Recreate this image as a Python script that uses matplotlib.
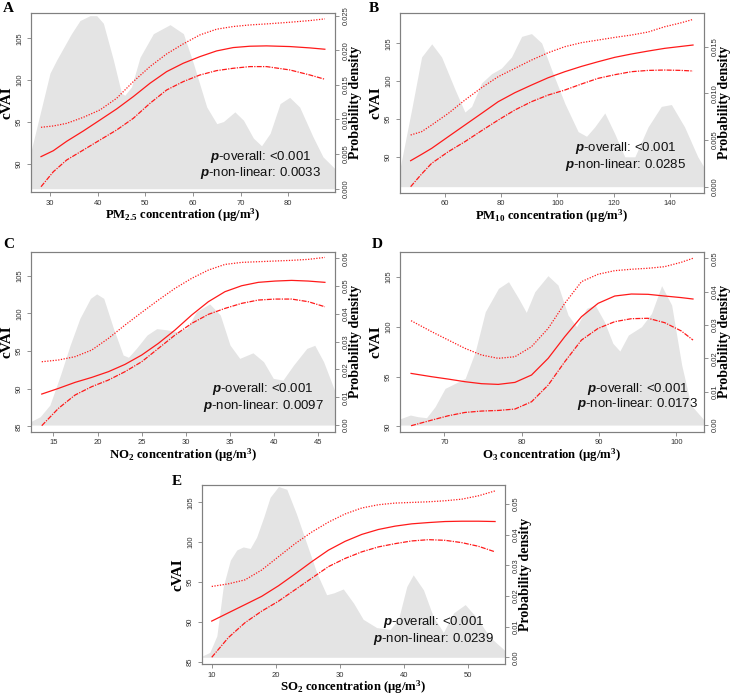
import numpy as np
import matplotlib
matplotlib.use("Agg")
import matplotlib.pyplot as plt

plt.rcParams["mathtext.fontset"] = "custom"
plt.rcParams["mathtext.rm"] = "Liberation Serif:bold"
plt.rcParams["mathtext.it"] = "Liberation Serif:bold"
plt.rcParams["mathtext.bf"] = "Liberation Serif:bold"
plt.rcParams["mathtext.bfit"] = "Liberation Sans:italic:bold"

# ---- A: PM2.5 ----
pm25_dx = [25.9, 30, 31.4, 34.5, 36.3, 38.4, 39.8, 41.2, 43.3, 45, 45.7, 47.1, 48.9, 51.7, 55.2, 58,
           60.1, 62.9, 65, 66.4, 68.8, 70.6, 72.7, 74.4, 76.2, 78.3, 80.3, 82.4, 85.2, 87.3, 89.8]
pm25_d = [0.0051, 0.0167, 0.0186, 0.0224, 0.0243, 0.0250, 0.0250, 0.0239, 0.0186, 0.0138, 0.0135, 0.0147,
          0.0190, 0.0224, 0.0237, 0.0224, 0.0181, 0.0118, 0.0094, 0.0097, 0.0111, 0.0099, 0.0073, 0.0062,
          0.0080, 0.0123, 0.0132, 0.0118, 0.0075, 0.0046, 0.0029]
pm25_x = [28.11, 30.70, 33.50, 36.99, 40.49, 43.99, 47.48, 50.98, 54.48, 57.97, 61.47, 64.97, 68.46,
          71.96, 75.45, 80.35, 84.55, 87.69]
pm25_fit = [90.88, 91.59, 92.71, 93.94, 95.25, 96.57, 98.04, 99.63, 101.02, 102.02, 102.81, 103.49, 103.89,
            104.05, 104.09, 104.01, 103.85, 103.69]
pm25_up = [94.38, 94.54, 94.85, 95.57, 96.45, 97.84, 99.83, 101.62, 103.13, 104.33, 105.4, 106.08, 106.4,
           106.59, 106.71, 106.91, 107.11, 107.31]
pm25_lo = [87.29, 89.08, 90.48, 91.67, 92.87, 94.06, 95.45, 97.24, 98.83, 99.83, 100.62, 101.14, 101.42,
           101.62, 101.62, 101.22, 100.62, 100.11]

# ---- B: PM10 ----
pm10_dx = [43.9, 48.1, 51.7, 55.3, 58.8, 63.6, 67.1, 69.5, 73, 76.6, 80.1, 83.7, 87.3, 90.8, 94.4, 98,
           102.7, 107.4, 110.4, 113.3, 116.9, 120.4, 124, 127.6, 132.3, 137, 140.6, 145.3, 150, 152.2]
pm10_d = [0.0018, 0.0082, 0.0139, 0.0153, 0.0139, 0.0104, 0.0080, 0.0086, 0.0111, 0.0121, 0.0127, 0.0139,
          0.0161, 0.0164, 0.0154, 0.0125, 0.0089, 0.0059, 0.0054, 0.0064, 0.0079, 0.0057, 0.0032, 0.0032,
          0.0064, 0.0086, 0.0088, 0.0064, 0.0032, 0.0021]
pm10_x = [47.79, 51.70, 55.26, 61.19, 67.11, 73.04, 78.96, 84.89, 90.81, 96.74, 102.67, 108.59, 114.52,
          120.44, 126.37, 132.30, 138.22, 144.15, 148.30]
pm10_fit = [89.47, 90.31, 91.10, 92.65, 94.19, 95.73, 97.28, 98.47, 99.48, 100.45, 101.25, 101.95, 102.57,
            103.15, 103.59, 103.98, 104.34, 104.6, 104.78]
pm10_up = [92.87, 93.31, 94.19, 95.73, 97.5, 99.13, 100.59, 101.69, 102.79, 103.76, 104.56, 105.09, 105.44,
           105.79, 106.1, 106.5, 107.2, 107.73, 108.17]
pm10_lo = [86.03, 87.71, 89.12, 90.66, 91.99, 93.44, 94.85, 96.18, 97.28, 98.16, 98.82, 99.62, 100.37,
           100.85, 101.25, 101.42, 101.47, 101.42, 101.34]

# ---- C: NO2 ----
no2_dx = [12.4, 13.5, 14.6, 15.8, 16.9, 18, 19.2, 19.9, 20.7, 21.8, 22.9, 23.5, 24.4, 25.6, 26.7, 27.8,
          29, 30.1, 31.2, 32.7, 33.9, 35, 36.1, 37.6, 38.8, 39.9, 41, 42.2, 43.7, 44.6, 45.6, 46.9]
no2_d = [0.0012, 0.0030, 0.0072, 0.0180, 0.0288, 0.0384, 0.0456, 0.0472, 0.0456, 0.0348, 0.0252, 0.0244,
         0.0276, 0.0324, 0.0347, 0.0343, 0.0336, 0.0348, 0.0408, 0.0436, 0.0396, 0.0288, 0.0240, 0.0260,
         0.0228, 0.0168, 0.0162, 0.0216, 0.0276, 0.0287, 0.0228, 0.0120]
no2_x = [13.68, 15.57, 17.45, 19.34, 21.23, 23.11, 25.0, 26.89, 28.77, 30.66, 32.55, 34.43, 36.32, 38.21,
         40.09, 41.98, 43.87, 45.75]
no2_fit = [89.29, 90.04, 90.84, 91.50, 92.26, 93.23, 94.47, 96.02, 97.79, 99.78, 101.55, 102.88, 103.67,
           104.12, 104.29, 104.38, 104.29, 104.12]
no2_up = [93.58, 93.81, 94.25, 95.13, 96.68, 98.45, 100.13, 101.77, 103.32, 104.65, 105.75, 106.50, 106.77,
          106.86, 106.95, 107.04, 107.17, 107.43]
no2_lo = [85.09, 87.39, 89.16, 90.27, 91.15, 92.26, 93.58, 95.35, 97.12, 98.67, 99.87, 100.66, 101.33,
          101.77, 101.90, 101.90, 101.55, 100.88]

# ---- D: O3 ----
o3_dx = [64.2, 65.6, 66.6, 67.7, 68.8, 70.1, 71.4, 72.7, 74, 75.3, 77, 78.3, 79.6, 80.6, 81.7, 83.4,
         84.7, 86, 87.1, 88.4, 89.5, 90.7, 91.8, 92.7, 93.8, 95.5, 96.8, 98.1, 99.4, 100.7, 101.9, 103.6]
o3_d = [0.0018, 0.0030, 0.0025, 0.0022, 0.0055, 0.0110, 0.0125, 0.0140, 0.0220, 0.0340, 0.0410, 0.0430,
        0.0380, 0.0338, 0.0400, 0.0448, 0.0420, 0.0330, 0.0295, 0.0350, 0.0360, 0.0310, 0.0245, 0.0222,
        0.0270, 0.0295, 0.0335, 0.0418, 0.0360, 0.0180, 0.0060, 0.0015]
o3_x = [65.70, 68.36, 70.52, 72.67, 74.82, 76.97, 79.13, 81.28, 83.43, 85.58, 87.74, 89.89, 92.04, 94.19,
        96.35, 98.50, 100.65, 102.16]
o3_fit = [95.31, 94.98, 94.74, 94.48, 94.28, 94.21, 94.41, 95.15, 96.82, 98.99, 100.99, 102.33, 103.06,
          103.26, 103.23, 103.06, 102.9, 102.76]
o3_up = [100.59, 99.49, 98.65, 97.82, 97.15, 96.82, 96.98, 97.99, 99.82, 102.33, 104.5, 105.24, 105.6,
         105.74, 105.84, 106.0, 106.44, 106.84]
o3_lo = [90.07, 90.63, 91.07, 91.40, 91.54, 91.60, 91.74, 92.47, 94.14, 96.48, 98.65, 99.82, 100.49,
         100.79, 100.83, 100.39, 99.56, 98.65]

# ---- E: SO2 ----
so2_dx = [8.4, 9.7, 10.8, 11.8, 12.9, 13.9, 14.9, 16, 17, 18.1, 19.1, 20.4, 21.7, 23.2, 24.8, 26.4,
          27.9, 29, 30.5, 32.1, 33.6, 35.7, 37.8, 39.1, 40.4, 41.4, 43, 44.5, 46.1, 47.7, 49.5, 51.3,
          53.4, 55.7]
so2_d = [0.0003, 0.0016, 0.0070, 0.0231, 0.0317, 0.0350, 0.0360, 0.0355, 0.0392, 0.0457, 0.0522, 0.0557,
         0.0548, 0.0468, 0.0371, 0.0274, 0.0204, 0.0210, 0.0223, 0.0177, 0.0124, 0.0097, 0.0091, 0.0124,
         0.0231, 0.0269, 0.0220, 0.0134, 0.0081, 0.0145, 0.0172, 0.0129, 0.0065, 0.0022]
so2_x = [10.0, 12.60, 15.19, 17.79, 20.39, 22.99, 25.58, 28.18, 30.78, 33.38, 35.97, 38.57, 41.17, 43.77,
         46.36, 48.96, 51.56, 54.16]
so2_fit = [90.09, 91.13, 92.16, 93.20, 94.52, 96.01, 97.55, 99.0, 100.11, 100.98, 101.60, 102.02, 102.31,
           102.47, 102.60, 102.64, 102.64, 102.60]
so2_up = [94.44, 94.77, 95.27, 96.51, 98.17, 99.82, 101.27, 102.52, 103.55, 104.30, 104.71, 104.92, 105.0,
          105.08, 105.21, 105.41, 105.83, 106.45]
so2_lo = [85.54, 88.02, 89.89, 91.34, 92.58, 94.03, 95.48, 96.93, 97.96, 98.79, 99.41, 99.82, 100.16,
          100.32, 100.24, 99.95, 99.49, 98.79]

xlabels = [r"PM$_{2.5}$ concentration (μg/m$^3$)", r"PM$_{10}$ concentration (μg/m$^3$)",
           r"NO$_2$ concentration (μg/m$^3$)", r"O$_3$ concentration (μg/m$^3$)",
           r"SO$_2$ concentration (μg/m$^3$)"]
p_nonlin = ["0.0033", "0.0285", "0.0097", "0.0173", "0.0239"]
letters = ["A", "B", "C", "D", "E"]

fig = plt.figure(figsize=(7.33, 6.97), dpi=100)

# axes rectangles in figure fraction
rects = [(0.0419, 0.7245, 0.415, 0.2573), (0.5453, 0.7236, 0.4151, 0.2582),
         (0.0419, 0.3806, 0.4151, 0.2583), (0.5453, 0.3806, 0.4151, 0.2583),
         (0.2752, 0.0475, 0.4138, 0.2562)]
xlims = [(25.95, 89.8), (43.9, 152.2), (12.43, 46.89), (64.23, 103.58), (8.44, 55.71)]
ylims = [(86.66, 108.05), (85.24, 109.06), (84.29, 108.19), (89.47, 107.5), (84.71, 107.15)]
dlims = [(-0.00048, 0.02543), (-0.00064, 0.01864), (-0.0024, 0.0624), (-0.002, 0.052), (-0.00215, 0.0561)]
xticks = [np.arange(30, 81, 10), np.arange(60, 141, 20), np.arange(15, 46, 5),
          np.arange(70, 101, 10), np.arange(10, 51, 10)]
yticks = [[90, 95, 100, 105], [90, 95, 100, 105], [85, 90, 95, 100, 105],
          [90, 95, 100, 105], [85, 90, 95, 100, 105]]
dticks = [np.arange(0, 0.0251, 0.005), np.arange(0, 0.0151, 0.005), np.arange(0, 0.061, 0.01),
          np.arange(0, 0.051, 0.01), np.arange(0, 0.051, 0.01)]
dfmt = ["%.3f", "%.3f", "%.2f", "%.2f", "%.2f"]
ptext_pos = [(0.757, 0.197, 0.104), (0.743, 0.247, 0.154), (0.764, 0.236, 0.143),
             (0.781, 0.237, 0.152), (0.764, 0.236, 0.142)]
xlab_y = [-0.082, -0.082, -0.082, -0.082, -0.08]
letter_pos = [(3, 2), (369, 2), (3, 238), (372, 238), (172, 475)]

data = [(pm25_dx, pm25_d, pm25_x, pm25_fit, pm25_up, pm25_lo),
        (pm10_dx, pm10_d, pm10_x, pm10_fit, pm10_up, pm10_lo),
        (no2_dx, no2_d, no2_x, no2_fit, no2_up, no2_lo),
        (o3_dx, o3_d, o3_x, o3_fit, o3_up, o3_lo),
        (so2_dx, so2_d, so2_x, so2_fit, so2_up, so2_lo)]

spine_c = "#808080"
red = "#ff1a1a"

for i in range(5):
    dx, d, x, fit, up, lo = data[i]
    axd = fig.add_axes(rects[i])
    ax = axd.twinx()
    ax.set_zorder(axd.get_zorder() + 1)
    ax.patch.set_visible(False)

    # density on the right axis
    axd.fill_between(dx, 0, d, color="#e4e4e4", lw=0)
    axd.set_ylim(*dlims[i])
    axd.set_xlim(*xlims[i])
    axd.yaxis.tick_right()
    axd.yaxis.set_label_position("right")
    axd.set_yticks(dticks[i])
    axd.set_yticklabels([dfmt[i] % v for v in dticks[i]], rotation=90, va="center")
    axd.set_xticks(xticks[i])
    axd.set_xticklabels([str(v) for v in xticks[i]])
    axd.set_ylabel("Probability density", family="Liberation Serif", weight="bold", fontsize=10)
    axd.yaxis.set_label_coords(1.045, 0.5)
    axd.set_xlabel(xlabels[i], family="Liberation Serif", weight="bold", fontsize=9.2)
    axd.xaxis.set_label_coords(0.5, xlab_y[i])

    # spline fit on the left axis
    ax.plot(x, fit, color=red, lw=0.9)
    ax.plot(x, up, color=red, lw=0.9, ls=(0, (1, 1.2)))
    ax.plot(x, lo, color=red, lw=0.9, ls=(0, (4, 1, 1, 1)))
    ax.set_ylim(*ylims[i])
    ax.set_xlim(*xlims[i])
    ax.yaxis.tick_left()
    ax.yaxis.set_label_position("left")
    ax.set_yticks(yticks[i])
    ax.set_yticklabels([str(v) for v in yticks[i]], rotation=90, va="center")
    ax.set_ylabel("cVAI", family="Liberation Serif", weight="bold", fontsize=11)
    ax.yaxis.set_label_coords(-0.057, 0.5)

    for a in (ax, axd):
        for s in a.spines.values():
            s.set_color(spine_c)
            s.set_linewidth(0.8)
        a.tick_params(labelsize=5.5, length=3, width=0.6, color=spine_c, labelcolor="#333333", pad=2.5)
        for lab in a.get_yticklabels() + a.get_xticklabels():
            lab.set_family("Liberation Sans")

    px, py1, py2 = ptext_pos[i]
    ax.text(px, py1, r"$\mathbfit{p}$-overall: <0.001", transform=ax.transAxes, ha="center", va="center",
            fontsize=9.5, family="Liberation Sans", color="#111111")
    ax.text(px, py2, r"$\mathbfit{p}$-non-linear: " + p_nonlin[i], transform=ax.transAxes, ha="center",
            va="center", fontsize=9.5, family="Liberation Sans", color="#111111")

    lx, ly = letter_pos[i]
    fig.text(lx / 733, 1 - ly / 697, letters[i], family="Liberation Serif", weight="bold",
             fontsize=11, va="top", ha="left")

fig.savefig("out.png", dpi=100)
